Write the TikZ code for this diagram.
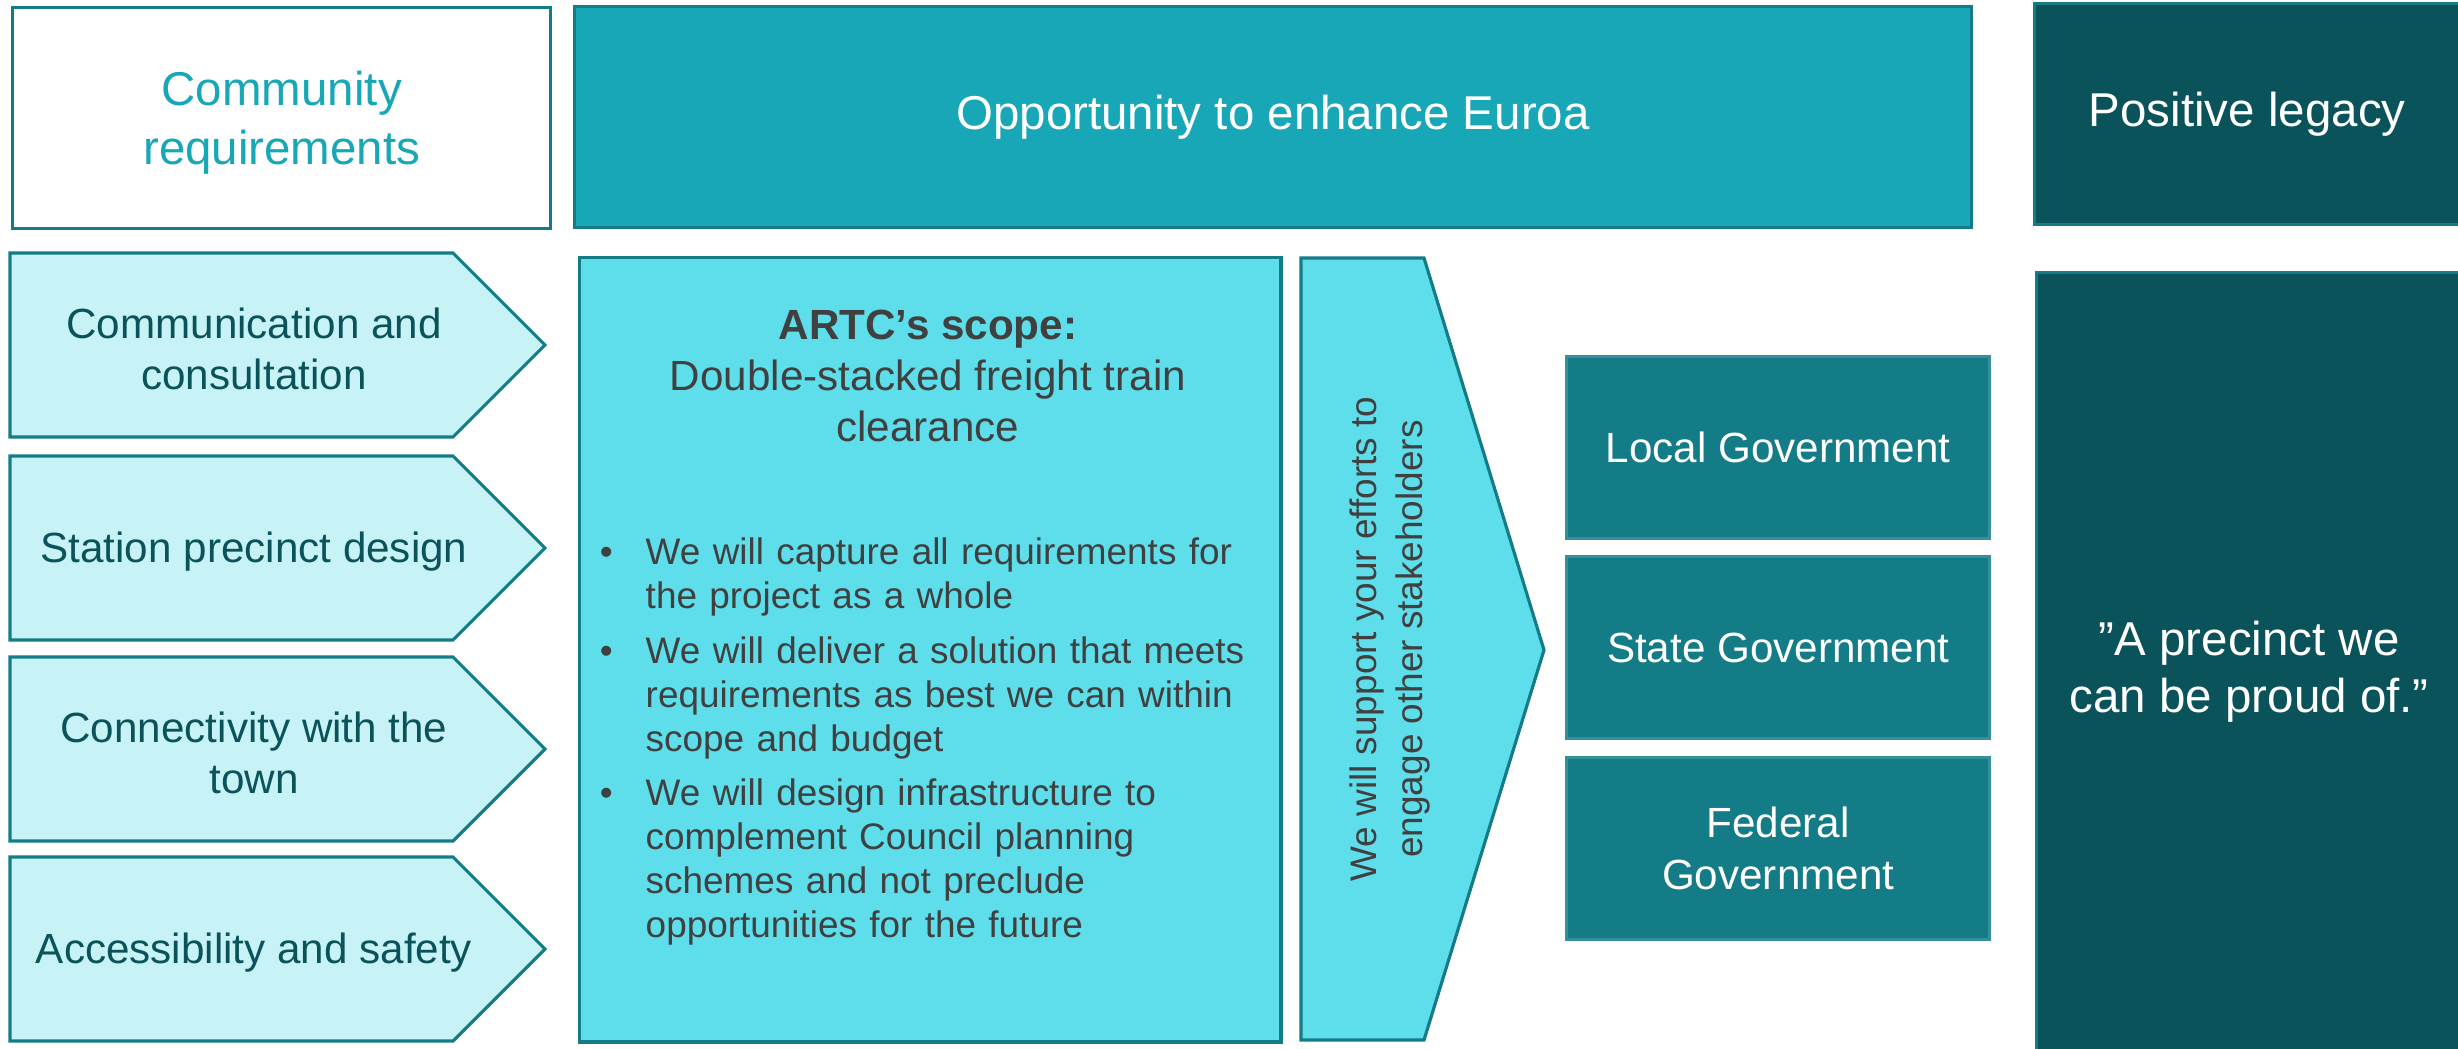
\documentclass[tikz,border=0pt]{standalone}
\usepackage{fontspec}
\setmainfont{Liberation Sans}
\usepackage{enumitem}
\definecolor{edgeteal}{HTML}{137C87}
\definecolor{midteal}{HTML}{17A7B7}
\definecolor{paleteal}{HTML}{C7F3F6}
\definecolor{brightcyan}{HTML}{5DDEEA}
\definecolor{deepteal}{HTML}{0B535B}
\definecolor{textgrey}{HTML}{404040}
\tikzset{
	panel/.style={draw=edgeteal, line width=0.9pt, anchor=north west, inner sep=0pt, align=center},
	chevron/.style={draw=edgeteal, line width=0.9pt, fill=paleteal},
	reqtext/.style={text=deepteal, align=center, font=\fontsize{12}{14.7}\selectfont},
	govbox/.style={panel, draw=edgeteal!85!white, fill=edgeteal, text=white, minimum width=4.23cm, minimum height=1.82cm, font=\fontsize{12}{14.7}\selectfont},
	bigtext/.style={font=\fontsize{13.5}{16.3}\selectfont}
}

\begin{document}
\begin{tikzpicture}[x=0.01cm, y=-0.01cm]
			\useasboundingbox (0,0) rectangle (2458,1049);
			% top row
			\node[panel, fill=white, minimum width=5.38cm, minimum height=2.21cm] (community) at (11,6) {};
			\node[bigtext, text=midteal, align=center, font=\fontsize{13.5}{16.8}\selectfont] (communitytext) at ([yshift=-0.05cm]community.center) {Community\\requirements};
			\node[panel, bigtext, fill=midteal, text=white, minimum width=13.96cm, minimum height=2.21cm] (opportunity) at (573,5) {Opportunity to enhance Euroa};
			\node[panel, bigtext, fill=deepteal, text=white, minimum width=4.25cm, minimum height=2.21cm] (legacy) at (2033,2) {Positive legacy};
			% requirements
			\foreach \ytop/\txt [count=\i] in {253/{Communication and\\consultation}, 456/{Station precinct design}, 657/{Connectivity with the\\town}, 857/{Accessibility and safety}}{
				\draw[chevron] (10,\ytop) -- ++(443,0) -- ++(92,92) -- ++(-92,92) -- ++(-443,0) -- cycle;
				\node[reqtext] (req\i) at (254,\ytop+96) {\txt};
			}
			% scope
			\node[panel, fill=brightcyan, minimum width=7.01cm, minimum height=7.84cm] (scope) at (578,256) {};
			\node[text=textgrey, align=center, font=\fontsize{12}{14.5}\selectfont] (scopetitle) at (928,376) {\textbf{ARTC’s scope:}\\Double-stacked freight train\\clearance};
			\node[text=textgrey, anchor=north west, text width=6.6cm, inner sep=0pt, font=\fontsize{10.5}{12.5}\selectfont] (scopelist) at (590,520) {%
				\begin{itemize}[label=\textbullet, leftmargin=0.55cm, labelsep=0.33cm, itemsep=3pt, topsep=0pt, parsep=0pt, partopsep=0pt]
					\item We will capture all requirements for\\the project as a whole
					\item We will deliver a solution that meets\\requirements as best we can within\\scope and budget
					\item We will design infrastructure to\\complement Council planning\\schemes and not preclude\\opportunities for the future
				\end{itemize}};
			% support arrow
			\draw[chevron, fill=brightcyan] (1301,258) -- (1424,258) -- (1544,650) -- (1424,1040) -- (1301,1040) -- cycle;
			\node[rotate=90, text=textgrey, align=center, font=\fontsize{10.5}{13.2}\selectfont] (support) at (1390,639) {We will support your efforts to\\engage other stakeholders};
			% stakeholders
			\node[govbox] (local) at (1565,355) {Local Government};
			\node[govbox] (state) at (1565,555) {State Government};
			\node[govbox] (federal) at (1565,756) {Federal\\Government};
			% legacy
			\node[panel, fill=deepteal, minimum width=4.25cm, minimum height=7.8cm] (precinct) at (2035,271) {};
			\node[bigtext, text=white, align=center] (quote) at ([yshift=-0.09cm]precinct.center) {”A precinct we\\can be proud of.”};
		\end{tikzpicture}
\end{document}
